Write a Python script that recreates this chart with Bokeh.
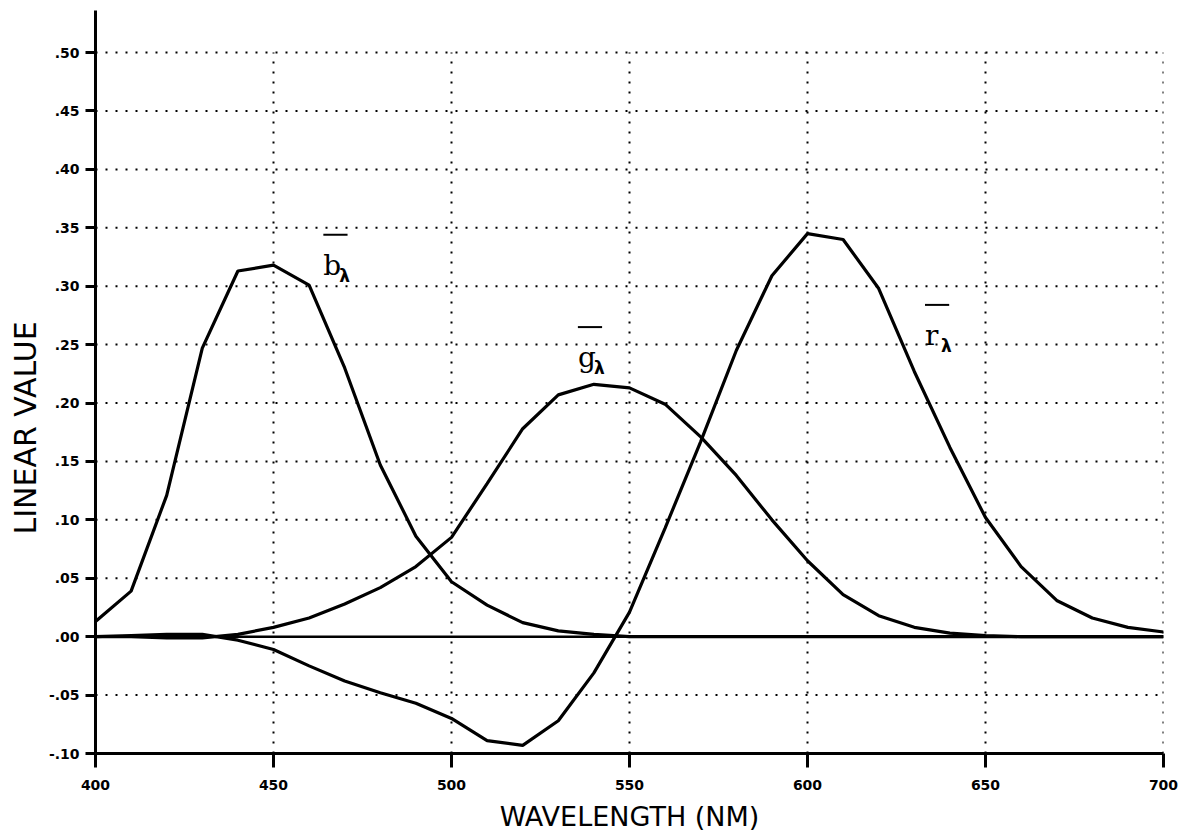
from bokeh.plotting import figure
from bokeh.models import FixedTicker, Range1d, Span, Title
from bokeh.core.properties import value
from bokeh.embed import file_html
from bokeh.resources import INLINE

# ---------------- data ----------------
wavelength = [400, 410, 420, 430, 440, 450, 460, 470, 480, 490,
              500, 510, 520, 530, 540, 550, 560, 570, 580, 590,
              600, 610, 620, 630, 640, 650, 660, 670, 680, 690, 700]

r_bar = [0.000, 0.001, 0.002, 0.002, -0.003, -0.011, -0.025, -0.038, -0.048, -0.057,
         -0.070, -0.089, -0.093, -0.072, -0.031, 0.021, 0.093, 0.167, 0.245, 0.309,
         0.345, 0.340, 0.298, 0.227, 0.162, 0.102, 0.060, 0.031, 0.016, 0.008, 0.004]

g_bar = [0.000, 0.000, -0.001, -0.001, 0.002, 0.008, 0.016, 0.028, 0.042, 0.060,
         0.085, 0.131, 0.178, 0.207, 0.216, 0.213, 0.199, 0.171, 0.138, 0.100,
         0.065, 0.036, 0.018, 0.008, 0.003, 0.001, 0.000, 0.000, 0.000, 0.000, 0.000]

b_bar = [0.013, 0.039, 0.121, 0.247, 0.313, 0.318, 0.301, 0.230, 0.147, 0.086,
         0.047, 0.027, 0.012, 0.005, 0.002, 0.000, 0.000, 0.000, 0.000, 0.000,
         0.000, 0.000, 0.000, 0.000, 0.000, 0.000, 0.000, 0.000, 0.000, 0.000, 0.000]

x_ticks = [400, 450, 500, 550, 600, 650, 700]
x_tick_labels = ["400", "450", "500", "550", "600", "650", "700"]
y_ticks = [-0.10, -0.05, 0.00, 0.05, 0.10, 0.15, 0.20, 0.25, 0.30, 0.35, 0.40, 0.45, 0.50]
y_tick_labels = ["-.10", "-.05", ".00", ".05", ".10", ".15", ".20", ".25",
                 ".30", ".35", ".40", ".45", ".50"]

grid_x = [450, 500, 550, 600, 650, 700]
grid_y = [-0.05, 0.05, 0.10, 0.15, 0.20, 0.25, 0.30, 0.35, 0.40, 0.45, 0.50]

curve_label_text = ["b", "g", "r"]
curve_label_x = [464.0, 535.5, 633.0]
curve_label_y = [0.318, 0.239, 0.258]

x_title = "WAVELENGTH (NM)"
y_title = "LINEAR VALUE"

# ---------------- figure ----------------
p = figure(width=1193, height=840, output_backend="svg", toolbar_location=None,
           x_range=Range1d(400, 700), y_range=Range1d(-0.10, 0.536),
           min_border_left=95, min_border_right=30, min_border_top=10, min_border_bottom=87)
p.outline_line_color = None
p.grid.visible = False
p.background_fill_color = "white"
p.border_fill_color = "white"

# dotted grid
p.segment(x0=[400] * len(grid_y), x1=[700] * len(grid_y), y0=grid_y, y1=grid_y,
          line_color="black", line_width=2, line_dash="2 8")
p.segment(x0=grid_x, x1=grid_x, y0=[-0.10] * len(grid_x), y1=[0.50] * len(grid_x),
          line_color="black", line_width=2, line_dash="2 8")

# zero line
p.add_layout(Span(location=0, dimension="width", line_color="black", line_width=2.5))

# curves
for series in (r_bar, g_bar, b_bar):
    p.line(wavelength, series, line_color="black", line_width=3.2)

# curve labels with overline and lambda subscript
p.text(x=curve_label_x, y=curve_label_y, text=curve_label_text,
       text_font=value("DejaVu Serif"), text_font_size="28px",
       text_align="left", text_baseline="alphabetic", text_color="black")
p.text(x=curve_label_x, y=curve_label_y, text=["λ"] * 3,
       text_font=value("DejaVu Sans"), text_font_style="bold", text_font_size="17px",
       x_offset=16, y_offset=11, text_align="left", text_baseline="alphabetic",
       text_color="black")
p.segment(x0=curve_label_x, x1=[v + 6.8 for v in curve_label_x],
          y0=[v + 0.026 for v in curve_label_y], y1=[v + 0.026 for v in curve_label_y],
          line_color="black", line_width=2)

# axes
for ax in (p.xaxis[0], p.yaxis[0]):
    ax.axis_line_width = 3
    ax.axis_line_color = "black"
    ax.major_tick_line_width = 3
    ax.major_tick_line_color = "black"
    ax.major_tick_in = 0
    ax.minor_tick_out = 0
    ax.minor_tick_in = 0
    ax.major_label_text_font = "DejaVu Sans"
    ax.major_label_text_font_style = "bold"
    ax.major_label_text_font_size = "14px"
    ax.major_label_text_color = "black"

p.xaxis.ticker = FixedTicker(ticks=x_ticks)
p.xaxis.major_label_overrides = dict(zip(x_ticks, x_tick_labels))
p.xaxis.major_tick_out = 14
p.xaxis.major_label_standoff = 12
p.xaxis.axis_label = x_title
p.xaxis.axis_label_text_font = "DejaVu Sans"
p.xaxis.axis_label_text_font_style = "normal"
p.xaxis.axis_label_text_font_size = "27px"
p.xaxis.axis_label_text_color = "black"
p.xaxis.axis_label_standoff = 8

p.yaxis.ticker = FixedTicker(ticks=y_ticks)
p.yaxis.major_label_overrides = dict(zip(y_ticks, y_tick_labels))
p.yaxis.major_tick_out = 10
p.yaxis.major_label_standoff = 6

p.add_layout(Title(text=y_title, align="left", offset=219, standoff=6,
                   text_font="DejaVu Sans", text_font_style="normal",
                   text_font_size="30px", text_color="black"), "left")

open("out.html", "w").write(file_html(p, INLINE))
